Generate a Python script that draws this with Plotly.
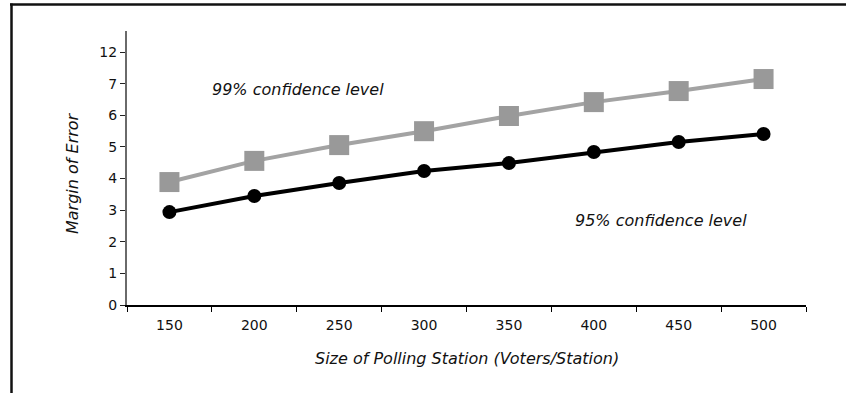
import plotly.graph_objects as go

sizes = ["150", "200", "250", "300", "350", "400", "450", "500"]
moe_99 = [3.89, 4.56, 5.06, 5.50, 5.98, 6.42, 6.77, 7.15]
moe_95 = [2.94, 3.45, 3.86, 4.24, 4.49, 4.84, 5.16, 5.41]
y_tickvals = [0, 1, 2, 3, 4, 5, 6, 7, 8]
y_ticktext = ["0", "1", "2", "3", "4", "5", "6", "7", "12"]

FONT = "'DejaVu Sans', sans-serif"
W, H = 846, 393
L, R, T, B = 127, 40, 31, 88
pw, ph = W - L - R, H - T - B

def px(x):
    return (x - L) / pw

def py(y):
    return (H - B - y) / ph

fig = go.Figure()
fig.add_trace(go.Scatter(
    x=sizes, y=moe_99, mode="lines+markers", name="99%",
    line=dict(color="#a3a3a3", width=4),
    marker=dict(symbol="square", size=20, color="#999999"),
    cliponaxis=False,
))
fig.add_trace(go.Scatter(
    x=sizes, y=moe_95, mode="lines+markers", name="95%",
    line=dict(color="#000000", width=4),
    marker=dict(symbol="circle", size=14, color="#000000"),
    cliponaxis=False,
))

def note(text, x, y, angle=0):
    return dict(text=text, x=px(x), y=py(y), xref="paper", yref="paper",
                xanchor="center", yanchor="middle", showarrow=False,
                textangle=angle,
                font=dict(size=16, family=FONT, color="#111111"))

fig.update_layout(
    width=W, height=H,
    margin=dict(l=L, r=R, t=T, b=B, autoexpand=False),
    paper_bgcolor="white", plot_bgcolor="white",
    showlegend=False,
    font=dict(family=FONT, color="#111111", size=14),
    xaxis=dict(
        type="category", range=[-0.5, 7.5], tickson="boundaries",
        showgrid=False, zeroline=False,
        showline=True, linecolor="#000000", linewidth=1.5,
        ticks="outside", ticklen=5, tickcolor="#000000", tickwidth=1,
        ticklabelstandoff=6,
        tickfont=dict(size=14, family=FONT),
    ),
    yaxis=dict(
        range=[0, 8.67], tickvals=y_tickvals, ticktext=y_ticktext,
        showgrid=False, zeroline=False,
        showline=True, linecolor="#6a6a6a", linewidth=2,
        ticks="outside", ticklen=5, tickcolor="#222222", tickwidth=1,
        tickfont=dict(size=14, family=FONT),
    ),
    annotations=[
        note("<i>99% confidence level</i>", 298, 89),
        note("<i>95% confidence level</i>", 661, 221),
        note("<i>Size of Polling Station (Voters/Station)</i>", 467, 358),
        note("<i>Margin of Error</i>", 73, 173, angle=-90),
    ],
    shapes=[
        dict(type="line", xref="paper", yref="paper",
             x0=px(10), x1=px(W + 5), y0=py(4.5), y1=py(4.5),
             line=dict(color="#111111", width=2.5)),
        dict(type="line", xref="paper", yref="paper",
             x0=px(11.5), x1=px(11.5), y0=py(3.5), y1=py(H + 5),
             line=dict(color="#111111", width=2.5)),
    ],
)

fig.write_html("out.html", config={"displayModeBar": False},
               post_script="document.body.style.margin='0';document.body.style.overflow='hidden';")
